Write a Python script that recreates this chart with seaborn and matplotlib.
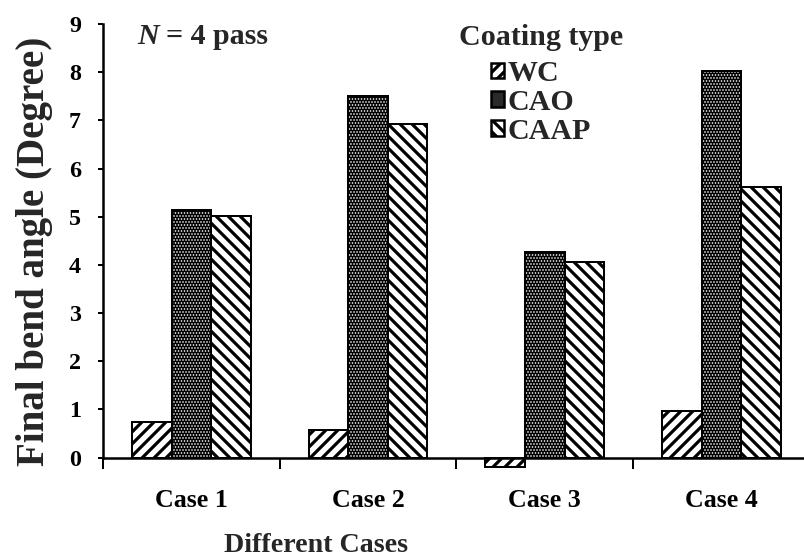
import numpy as np
import pandas as pd
import matplotlib
matplotlib.use("Agg")
import matplotlib.pyplot as plt
import seaborn as sns
from matplotlib.patches import Patch, Rectangle

# ---- data ----
cases = ["Case 1", "Case 2", "Case 3", "Case 4"]
coatings = ["WC", "CAO", "CAAP"]
wc_vals = [0.73, 0.58, -0.20, 0.97]
cao_vals = [5.13, 7.50, 4.27, 8.02]
caap_vals = [5.02, 6.92, 4.05, 5.62]
y_ticks = [0, 1, 2, 3, 4, 5, 6, 7, 8, 9]

sns.set_theme(style="white")
plt.rcParams["font.family"] = ["Liberation Serif", "DejaVu Serif"]
plt.rcParams["font.weight"] = "bold"
plt.rcParams["axes.labelweight"] = "bold"
plt.rcParams["hatch.linewidth"] = 3.2

df = pd.DataFrame({
    "case": cases * 3,
    "coating": np.repeat(coatings, len(cases)),
    "angle": wc_vals + cao_vals + caap_vals,
})

W, H, DPI = 804, 559, 72
fig = plt.figure(figsize=(W / DPI, H / DPI), dpi=DPI)
ax = fig.add_axes([103 / W, 1 - 472 / H, 1 - 103 / W, (472 - 24) / H])

sns.barplot(data=df, x="case", y="angle", hue="coating", order=cases,
            hue_order=coatings, palette=["white", "black", "white"],
            width=0.672, edgecolor="black", linewidth=2, saturation=1,
            errorbar=None, legend=False, ax=ax)

hatches = {"WC": "//", "CAAP": "\\\\"}
for cont, name in zip(ax.containers, coatings):
    for p in cont:
        if name == "CAO":
            p.set_facecolor("black")
            p.set_edgecolor("white")
            p.set_linewidth(0)
            p.set_hatch("....")
            if hasattr(p, "set_hatch_linewidth"):
                p.set_hatch_linewidth(1.0)
            ax.add_patch(Rectangle(p.get_xy(), p.get_width(), p.get_height(),
                                   fill=False, ec="black", lw=2,
                                   zorder=p.get_zorder() + 0.1))
        else:
            p.set_hatch(hatches[name])

ax.set_xlim(-0.5, 3.467)
ax.set_ylim(-0.3, 9)
for s in ["top", "right"]:
    ax.spines[s].set_visible(False)
ax.spines["bottom"].set_position(("data", 0))
ax.spines["left"].set_bounds(0, 9)
for s in ["bottom", "left"]:
    ax.spines[s].set_color("black")
    ax.spines[s].set_linewidth(2.5)

ax.set_yticks(y_ticks)
ax.set_yticklabels([str(t) for t in y_ticks])
ax.tick_params(axis="y", direction="out", length=5, width=2, pad=17,
               labelsize=24, colors="black", left=True)
ax.set_xticks(range(len(cases)))
ax.set_xticklabels(cases)
ax.tick_params(axis="x", which="major", length=0, pad=31, labelsize=26,
               colors="black")
ax.set_xticks([-0.5, 0.5, 1.5, 2.5], minor=True)
ax.tick_params(axis="x", which="minor", direction="out", length=11, width=2,
               bottom=True, colors="black")

ax.set_xlabel("Different Cases", fontsize=28, fontweight="bold", va="center")
ax.xaxis.set_label_coords(316 / W, 1 - 545 / H, transform=fig.transFigure)
ax.set_ylabel("Final bend angle (Degree)", fontsize=39, fontweight="bold",
              va="center")
ax.yaxis.set_label_coords(35 / W, 1 - 251 / H, transform=fig.transFigure)

fig.text(137 / W, 1 - 37 / H, "N", fontsize=30, fontweight="bold",
         style="italic", va="center", ha="left")
fig.text(166 / W, 1 - 37 / H, "= 4 pass", fontsize=30, fontweight="bold",
         va="center", ha="left")

handles = [
    Patch(facecolor="white", edgecolor="black", hatch="//", lw=2.5),
    Patch(facecolor="#2a2a2a", edgecolor="black", lw=2.5),
    Patch(facecolor="white", edgecolor="black", hatch="\\\\", lw=2.5),
]
leg = ax.legend(handles, coatings, title="Coating type", loc="upper center",
                bbox_to_anchor=(541 / W, 1 - 24 / H),
                bbox_transform=fig.transFigure, frameon=False,
                fontsize=30, title_fontsize=30, handlelength=0.42,
                handleheight=0.42, handletextpad=0.12, labelspacing=0.06,
                borderpad=0, borderaxespad=0)
leg.get_title().set_fontweight("bold")
for t in leg.get_texts():
    t.set_fontweight("bold")
try:
    leg._legend_box.sep = 9
except Exception:
    pass

fig.savefig("out.png", dpi=DPI)
